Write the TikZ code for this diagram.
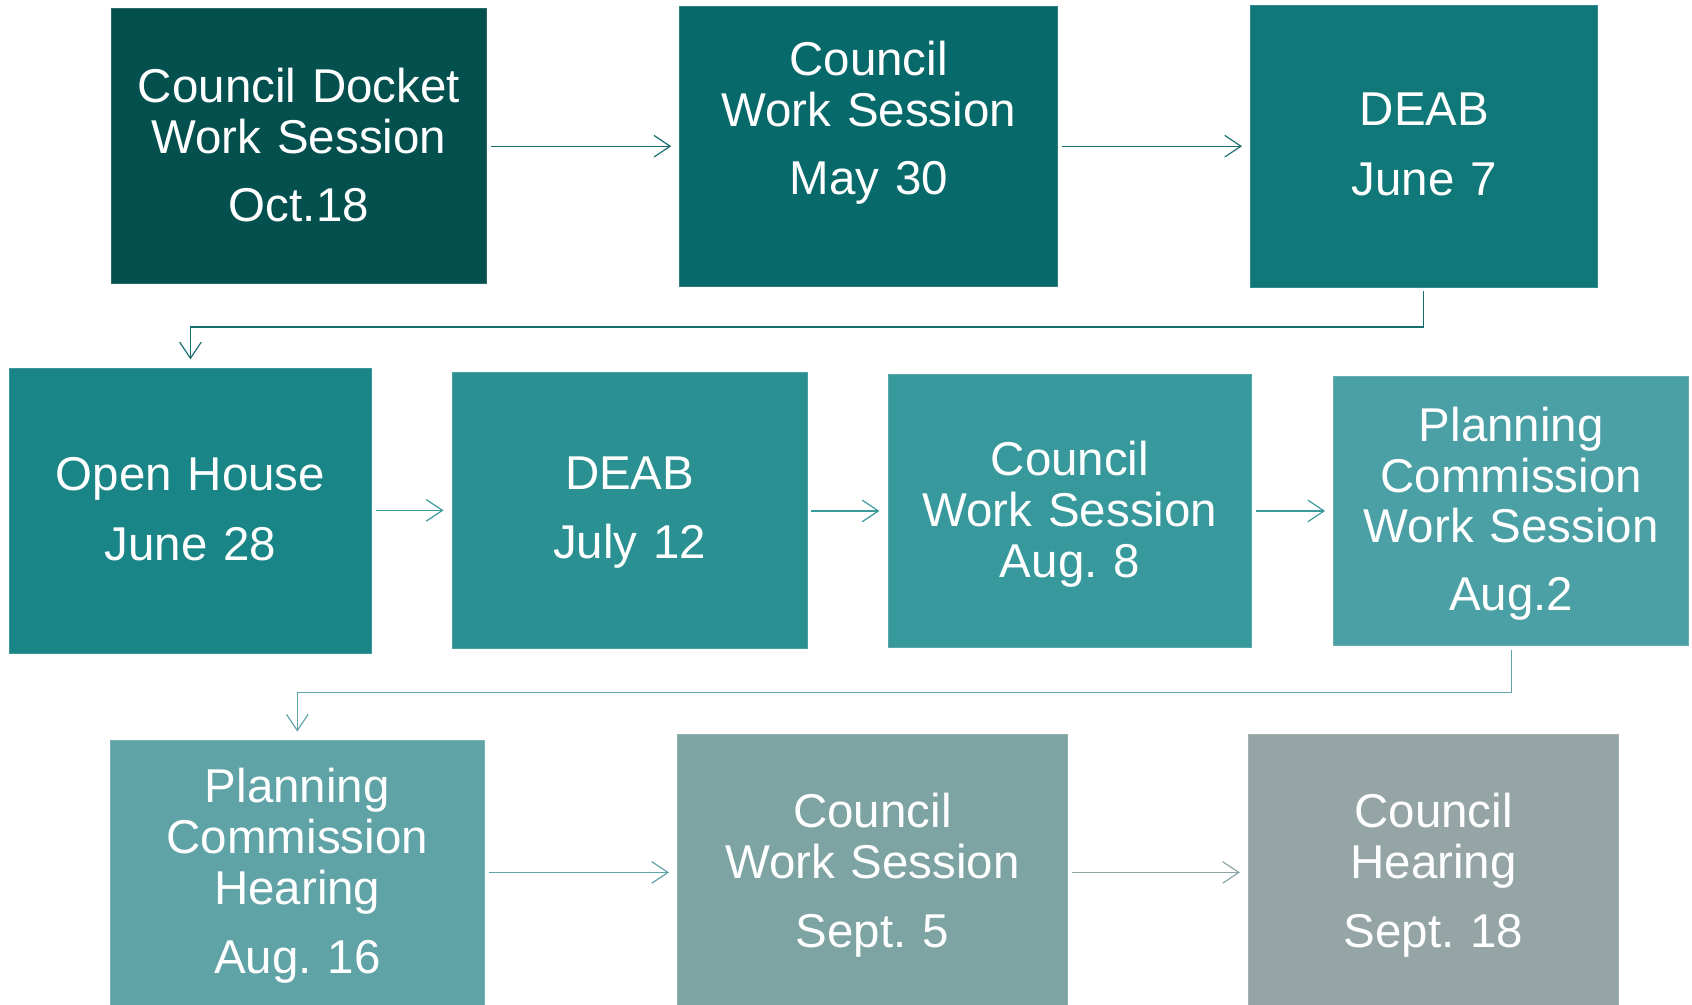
\documentclass[tikz,border=0pt]{standalone}
\usepackage{fontspec}
\setmainfont{Liberation Sans}
\usetikzlibrary{arrows.meta}
\frenchspacing
\definecolor{c1}{HTML}{03504F}
\definecolor{c2}{HTML}{08696A}
\definecolor{c3}{HTML}{107878}
\definecolor{c4}{HTML}{1A8586}
\definecolor{c5}{HTML}{2A9092}
\definecolor{c6}{HTML}{38999C}
\definecolor{c7}{HTML}{4AA0A4}
\definecolor{c8}{HTML}{60A3A7}
\definecolor{c9}{HTML}{7DA3A3}
\definecolor{c10}{HTML}{95A5A5}
\definecolor{a1}{HTML}{1B6E70}
\definecolor{a2}{HTML}{3A9A9C}
\definecolor{a3}{HTML}{5FA3A6}
\definecolor{a4}{HTML}{8AA5A5}
\tikzset{
  box/.style={rectangle, inner sep=0pt, outer sep=0pt, draw=#1!85!white, line width=0.8pt, fill=#1},
  txt/.style={anchor=base, text=white, text width=340pt, align=center, inner sep=0pt,
    font=\fontsize{44}{47}\selectfont\frenchspacing},
  arr/.style={draw=#1, line width=1.1pt, -{Straight Barb[length=15pt,width=20pt,line width=1.1pt]}, shorten <=4pt, shorten >=8pt}
}
\begin{document}
\begin{tikzpicture}[x=1pt,y=-1pt]
\useasboundingbox (0,0) rectangle (1568,931);
% row 1
\node[box=c1, minimum width=348pt, minimum height=255pt] (b1) at (277,135.5) {};
\node[box=c2, minimum width=350pt, minimum height=259pt] (b2) at (805,135.5) {};
\node[box=c3, minimum width=321pt, minimum height=261pt] (b3) at (1319.5,135.5) {};
% row 2
\node[box=c4, minimum width=335pt, minimum height=265pt] (b4) at (176.5,473.5) {};
\node[box=c5, minimum width=329pt, minimum height=256pt] (b5) at (583.5,473) {};
\node[box=c6, minimum width=337pt, minimum height=253pt] (b6) at (991.5,473.5) {};
\node[box=c7, minimum width=329pt, minimum height=249pt] (b7) at (1400.5,473.5) {};
% row 3
\node[box=c8, minimum width=347pt, minimum height=255pt] (b8) at (275.5,813.5) {};
\node[box=c9, minimum width=361pt, minimum height=255pt] (b9) at (808.5,808.5) {};
\node[box=c10, minimum width=343pt, minimum height=255pt] (b10) at (1328.5,808.5) {};
% texts
\node[txt] (t1) at (277,95) {Council Docket\\Work Session\\[16pt]Oct.18};
\node[txt] (t2) at (805,70) {Council\\Work Session\\[16pt]May 30};
\node[txt] (t3) at (1320,116) {DEAB\\[18pt]June 7};
\node[txt] (t4) at (176.5,455) {Open House\\[17pt]June 28};
\node[txt] (t5) at (583.5,454) {DEAB\\[17pt]July 12};
\node[txt] (t6) at (991.5,441) {Council\\Work Session\\Aug. 8};
\node[txt] (t7) at (1400.5,409) {Planning\\Commission\\Work Session\\[16pt]Aug.2};
\node[txt] (t8) at (275.5,744) {Planning\\Commission\\Hearing\\[17pt]Aug. 16};
\node[txt] (t9) at (808.5,767) {Council\\Work Session\\[17pt]Sept. 5};
\node[txt] (t10) at (1328.5,767) {Council\\Hearing\\[17pt]Sept. 18};
% connectors
\draw[arr=a1] (b1.east |- b2.west) -- (b2.west);
\draw[arr=a1] (b2.east |- b3.west) -- (b3.west);
\draw[arr=a1] (b3.south) -- ++(0,37) -| (b4.north);
\draw[arr=a2] (b4.east |- b5.west) -- (b5.west);
\draw[arr=a2] (b5.east |- b6.west) -- (b6.west);
\draw[arr=a2] (b6.east |- b7.west) -- (b7.west);
\draw[arr=a3] (b7.south) -- ++(0,44) -| (b8.north);
\draw[arr=a3] (b8.east |- b9.west) -- (b9.west);
\draw[arr=a4] (b9.east |- b10.west) -- (b10.west);
\end{tikzpicture}
\end{document}
